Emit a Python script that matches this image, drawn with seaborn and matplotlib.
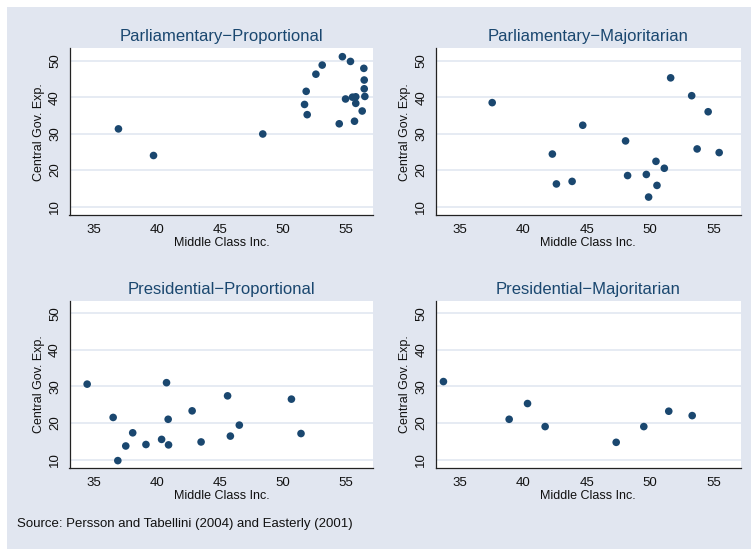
import matplotlib
matplotlib.use("Agg")
import matplotlib.pyplot as plt
import seaborn as sns
import pandas as pd

titles = ["Parliamentary\u2212Proportional", "Parliamentary\u2212Majoritarian",
          "Presidential\u2212Proportional", "Presidential\u2212Majoritarian"]

pp_x = [36.95, 39.73, 48.39, 51.70, 51.83, 51.91, 52.6, 53.1, 54.7, 55.34, 54.45, 54.95,
        55.5, 55.76, 55.76, 55.66, 56.27, 56.4, 56.43, 56.43, 56.48]
pp_y = [31.3, 24.0, 29.9, 38.0, 41.6, 35.2, 46.3, 48.8, 51.1, 49.8, 32.7, 39.5,
        40.0, 40.1, 38.3, 33.4, 36.2, 47.9, 44.7, 42.3, 40.2]

pm_x = [37.53, 44.68, 42.28, 42.6, 43.84, 48.06, 48.22, 49.7, 49.88, 50.46, 50.54, 51.12,
        51.62, 53.28, 54.58, 53.71, 55.45]
pm_y = [38.5, 32.3, 24.4, 16.2, 16.9, 28.0, 18.5, 18.8, 12.6, 22.4, 15.8, 20.5,
        45.3, 40.4, 36.0, 25.8, 24.8]

rp_x = [34.47, 36.53, 36.9, 37.53, 38.08, 39.13, 40.37, 40.76, 40.89, 40.92, 42.79, 43.5,
        45.6, 45.82, 46.53, 50.66, 51.42]
rp_y = [30.6, 21.5, 9.7, 13.7, 17.3, 14.1, 15.5, 31.0, 21.0, 14.0, 23.3, 14.8,
        27.4, 16.4, 19.4, 26.5, 17.1]

rm_x = [33.68, 38.87, 40.32, 41.71, 47.32, 49.5, 51.47, 53.32]
rm_y = [31.3, 21.0, 25.3, 19.0, 14.7, 19.0, 23.2, 22.0]

x_ticks = [35, 40, 45, 50, 55]
y_ticks = [10, 20, 30, 40, 50]

sns.set_style("white")
plt.rcParams['font.family'] = ['Liberation Sans', 'DejaVu Sans']

navy = "#1a476f"
bg = "#e1e6f0"
grid_c = "#e6ebf3"

fig = plt.figure(figsize=(7.51, 5.49), dpi=100)
fig.patch.set_facecolor(bg)
W, H = 751, 549
# white strips on top and left
fig.add_artist(plt.Rectangle((0, 1 - 7 / H), 1, 7 / H, transform=fig.transFigure,
                             facecolor="white", edgecolor="none", zorder=-10))
fig.add_artist(plt.Rectangle((0, 0), 7 / W, 1, transform=fig.transFigure,
                             facecolor="white", edgecolor="none", zorder=-10))

boxes = [(69.5, 48.3, 373.3, 215.3), (435.7, 48.3, 740.7, 215.3),
         (69.5, 300.7, 373.3, 468.3), (435.7, 300.7, 740.7, 468.3)]
series = [(pp_x, pp_y), (pm_x, pm_y), (rp_x, rp_y), (rm_x, rm_y)]

for (l, t, r, b), (xs, ys), title in zip(boxes, series, titles):
    ax = fig.add_axes([l / W, 1 - b / H, (r - l) / W, (b - t) / H])
    ax.set_facecolor("white")
    df = pd.DataFrame({"x": xs, "y": ys})
    for yt in y_ticks:
        ax.axhline(yt, color=grid_c, lw=1.4, zorder=0)
    sns.scatterplot(data=df, x="x", y="y", ax=ax, color=navy, s=30, edgecolor="none",
                    linewidth=0, zorder=3)
    ax.set_xlim(33.07, 57.15)
    ax.set_ylim(7.6, 53.4)
    ax.set_xticks(x_ticks)
    ax.set_yticks(y_ticks)
    ax.set_yticklabels([str(v) for v in y_ticks], rotation=90, va="center")
    ax.tick_params(axis="both", direction="out", length=4, width=0.8, color="#333333",
                   labelsize=9.5, labelcolor="#111111", pad=2)
    for side in ["top", "right"]:
        ax.spines[side].set_visible(False)
    for side in ["left", "bottom"]:
        ax.spines[side].set_color("#222222")
        ax.spines[side].set_linewidth(0.9)
    ax.set_xlabel("Middle Class Inc.", fontsize=9, color="#111111", labelpad=1)
    ax.set_ylabel("Central Gov. Exp.", fontsize=9, color="#111111", labelpad=3)
    ax.set_title(title, fontsize=12, color=navy, pad=5)

fig.text(17 / W, 1 - 524 / H, "Source: Persson and Tabellini (2004) and Easterly (2001)",
         fontsize=9.5, color="#111111", va="center", ha="left")

fig.savefig("out.png", dpi=100, facecolor=fig.get_facecolor())
